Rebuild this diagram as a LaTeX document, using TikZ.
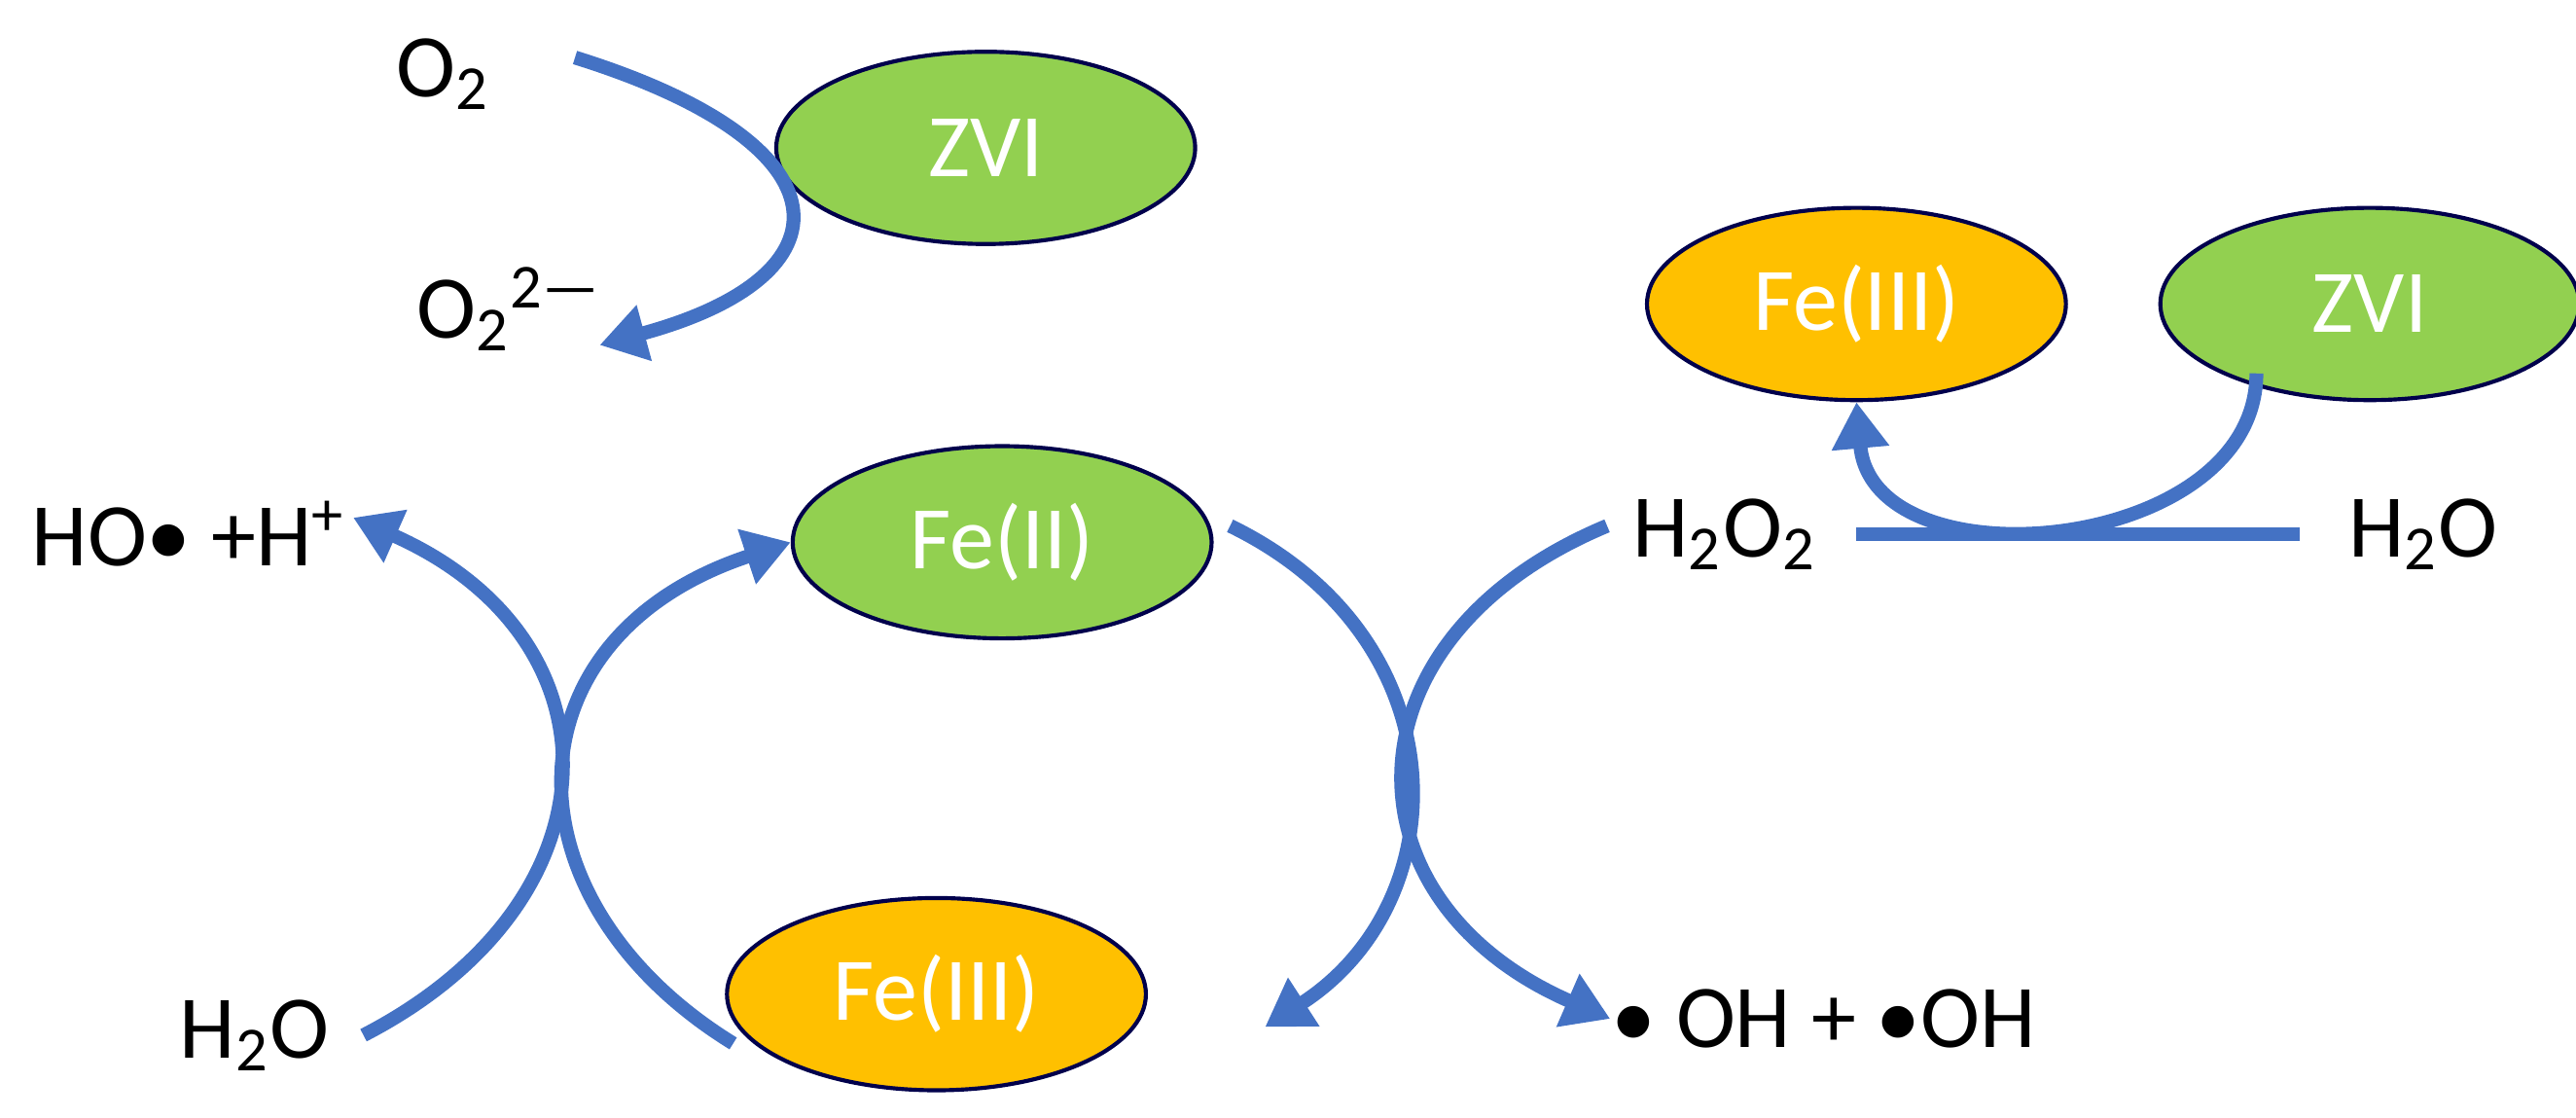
\documentclass[tikz,border=0pt]{standalone}
\usepackage{fontspec}
\setmainfont{Carlito}
\usetikzlibrary{positioning,arrows.meta,shapes.geometric}
\begin{document}
\begin{tikzpicture}[%
        every node/.style={inner sep=0pt, font=\fontsize{15.5}{18}\selectfont},
        ell/.style={ellipse, draw=black!70!blue, line width=0.7pt, minimum width=2.55cm, minimum height=1.17cm, text=white},
        green/.style={ell, fill=green!55!lime!80!black!85},
        orange/.style={ell, fill=orange!60!yellow},
        flow/.style={draw=blue!55!cyan!60!black!90, line width=2.4pt, -{Triangle[length=8pt,width=9.5pt]}},
        >=latex
      ]
      \useasboundingbox (0,4.68) rectangle (15.68,11.48);
      \definecolor{arc}{RGB}{68,114,196}
      \tikzset{flow/.append style={draw=arc, color=arc}}
      \definecolor{gr}{RGB}{146,208,80}
      \definecolor{or}{RGB}{255,192,0}
      \tikzset{green/.append style={fill=gr}, orange/.append style={fill=or}}
      % top left
      \node (o2) at (2.7,11.03) {O\textsubscript{2}};
      \node (zvi1) [green] at (6.0,10.58) {ZVI};
      \node (o2m) at (3.1,9.6) {O\textsubscript{2}\textsuperscript{2—}};
      % top right
      \node (fe3b) [orange] at (11.3,9.63) {Fe(III)};
      \node (zvi2) [green, right=0.55cm of fe3b] {ZVI};
      \node (h2o2) at (10.5,8.23) {H\textsubscript{2}O\textsubscript{2}};
      \node (h2ob) at (14.75,8.23) {H\textsubscript{2}O};
      % cycle
      \node (fe2) [green] at (6.1,8.18) {Fe(II)};
      \node (fe3) [orange] at (5.7,5.43) {Fe(III)};
      \node (ho) at (1.15,8.23) {HO\textbullet\ +H\textsuperscript{+}};
      \node (h2o) at (1.55,5.18) {H\textsubscript{2}O};
      \node (oh) at (11.1,5.28) {\textbullet\ OH + \textbullet OH};
      \coordinate (m1) at (11.3,8.23);
      \coordinate (m2) at (14.0,8.23);
      \draw [flow, -] (m1) -- (m2);
      \draw [flow] (3.5,11.13) .. controls (5.2,10.6) and (5.2,9.8) .. (3.65,9.38);
      \draw [flow] (zvi2.south west) ++(0.22,0) .. controls +(0,-1.1) and (11.4,7.9) .. (fe3b.south);
      \draw [flow] (h2o.east) ++(0.2,0) .. controls (3.8,6.0) and (3.8,7.6) .. (2.15,8.33);
      \draw [flow] (fe3.west) ++(0.05,-0.3) .. controls (3.05,6.0) and (3.05,7.6) .. (fe2.west);
      \draw [flow] (fe2.east) ++(0.1,0.1) .. controls (8.89,7.6) and (8.89,6.0) .. (7.7,5.23);
      \draw [flow] (h2o2.west) ++(-0.15,0.05) .. controls (8.15,7.6) and (8.15,6.0) .. (oh.west);
\end{tikzpicture}
\end{document}
